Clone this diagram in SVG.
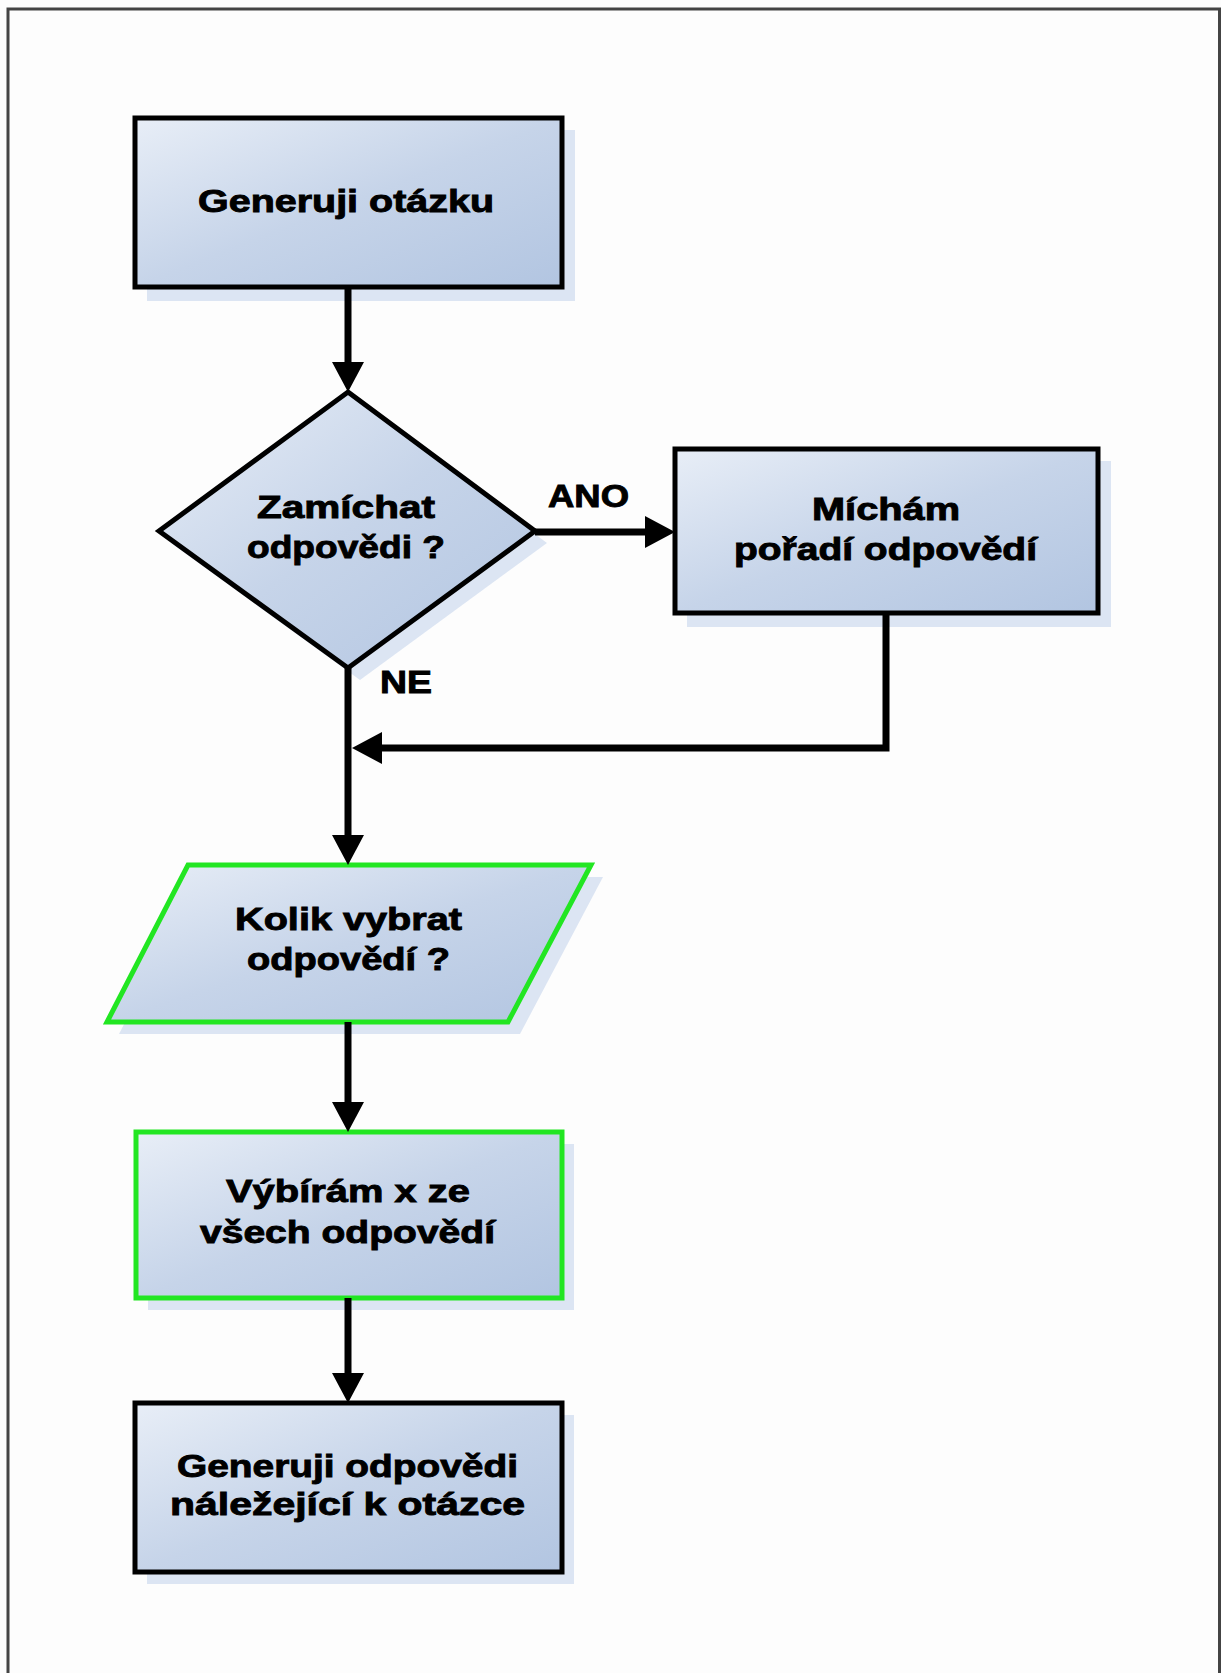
<svg xmlns="http://www.w3.org/2000/svg" width="1221" height="1673" viewBox="0 0 1221 1673">
<defs>
<linearGradient id="fill" x1="0" y1="0" x2="1" y2="1">
<stop offset="0" stop-color="#e8eef7"/>
<stop offset="0.5" stop-color="#c6d4e9"/>
<stop offset="1" stop-color="#b2c5e1"/>
</linearGradient>
<marker id="arr" markerUnits="userSpaceOnUse" markerWidth="32" markerHeight="32" refX="4" refY="16" orient="auto">
<path d="M0,0 L30,16 L0,32 z" fill="#000"/>
</marker>
</defs>
<style>
.shadow{fill:#dce5f3;stroke:none}
.node{fill:url(#fill);stroke:#000;stroke-width:5}
.green{stroke:#22e622}
.t{font-family:"Liberation Sans",Arial,sans-serif;font-weight:bold;font-size:31px;fill:#000;stroke:#000;stroke-width:0.9px;text-anchor:middle}
.c{fill:none;stroke:#000;stroke-width:7}
</style>
<rect x="0" y="0" width="1221" height="1673" fill="#fdfdfd"/>
<path d="M8,1673 V9 H1219.5 V1673" fill="none" stroke="#444" stroke-width="3"/>

<g id="n1">
<rect class="shadow" x="147" y="130" width="428" height="171"/>
<rect class="node" x="135" y="118" width="427" height="169"/>
<text class="t" x="346" y="212" textLength="296" lengthAdjust="spacingAndGlyphs">Generuji otázku</text>
</g>

<g id="n2">
<polygon class="shadow" points="360,404 547,543 360,680 171,543"/>
<polygon class="node" points="348,392 535,531 348,668 159,531"/>
<text class="t" x="346" y="518" textLength="178" lengthAdjust="spacingAndGlyphs">Zamíchat</text>
<text class="t" x="346" y="558" textLength="198" lengthAdjust="spacingAndGlyphs">odpovědi ?</text>
</g>

<g id="n3">
<rect class="shadow" x="687" y="461" width="424" height="166"/>
<rect class="node" x="675" y="449" width="423" height="164"/>
<text class="t" x="886" y="520" textLength="148" lengthAdjust="spacingAndGlyphs">Míchám</text>
<text class="t" x="885.5" y="560" textLength="303" lengthAdjust="spacingAndGlyphs">pořadí odpovědí</text>
</g>

<g id="n4">
<polygon class="shadow" points="200,877 603,877 520,1034 119,1034"/>
<polygon class="node green" points="188,865 591,865 508,1022 107,1022"/>
<text class="t" x="348.5" y="930" textLength="227" lengthAdjust="spacingAndGlyphs">Kolik vybrat</text>
<text class="t" x="348.5" y="970" textLength="203" lengthAdjust="spacingAndGlyphs">odpovědí ?</text>
</g>

<g id="n5">
<rect class="shadow" x="148" y="1144" width="426" height="166"/>
<rect class="node green" x="136" y="1132" width="426" height="166"/>
<text class="t" x="348" y="1202" textLength="244" lengthAdjust="spacingAndGlyphs">Výbírám x ze</text>
<text class="t" x="347.5" y="1243" textLength="295" lengthAdjust="spacingAndGlyphs">všech odpovědí</text>
</g>

<g id="n6">
<rect class="shadow" x="147" y="1415" width="427" height="169"/>
<rect class="node" x="135" y="1403" width="427" height="169"/>
<text class="t" x="347.5" y="1477" textLength="341" lengthAdjust="spacingAndGlyphs">Generuji odpovědi</text>
<text class="t" x="347.5" y="1515" textLength="355" lengthAdjust="spacingAndGlyphs">náležející k otázce</text>
</g>

<g id="connectors">
<path class="c" d="M348,287 V366" marker-end="url(#arr)"/>
<path class="c" d="M535,532 H649" marker-end="url(#arr)"/>
<path class="c" d="M886,613 V748 H378" marker-end="url(#arr)"/>
<path class="c" d="M348,668 V839" marker-end="url(#arr)"/>
<path class="c" d="M348,1022 V1106" marker-end="url(#arr)"/>
<path class="c" d="M348,1298 V1377" marker-end="url(#arr)"/>
<text class="t" x="588.5" y="507" textLength="81" lengthAdjust="spacingAndGlyphs">ANO</text>
<text class="t" x="406" y="693" textLength="52" lengthAdjust="spacingAndGlyphs">NE</text>
</g>
</svg>
